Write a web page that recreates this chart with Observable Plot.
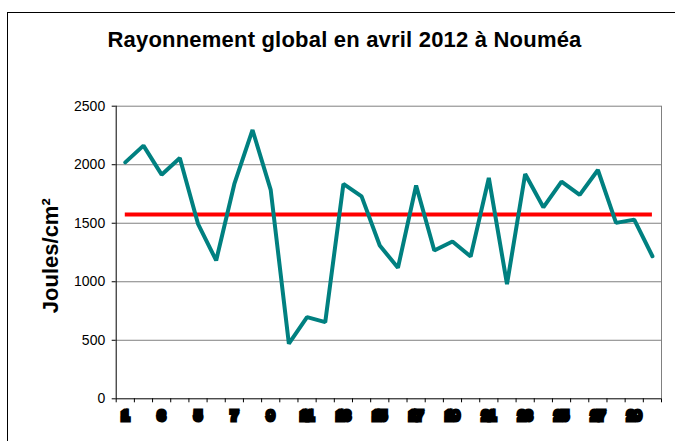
<!DOCTYPE html>
<html>
<head>
<meta charset="utf-8">
<script src="https://cdn.jsdelivr.net/npm/d3@7"></script>
<script src="https://cdn.jsdelivr.net/npm/@observablehq/plot@0.6"></script>
<style>
  html, body { margin: 0; padding: 0; background: #fff; }
  #chart { width: 675px; height: 441px; overflow: hidden; }
</style>
</head>
<body>
<div id="chart"></div>
<script>
const titre = "Rayonnement global en avril 2012 à Nouméa";
const yLabel = "Joules/cm²";
const days = [1,2,3,4,5,6,7,8,9,10,11,12,13,14,15,16,17,18,19,20,21,22,23,24,25,26,27,28,29,30];
const rayonnement = [2020,2163,1915,2058,1495,1182,1836,2297,1785,471,698,655,1836,1730,1310,1119,1822,1267,1344,1216,1887,980,1921,1636,1856,1742,1955,1503,1531,1218];
const moyenne = 1575;
const yTicks = [0,500,1000,1500,2000,2500];
const xLabels = [1,3,5,7,9,11,13,15,17,19,21,23,25,27,29];

const data = days.map((d, i) => ({day: d, value: rayonnement[i]}));
const boundaries = days.map(d => d - 0.5).concat([days[days.length - 1] + 0.5]);
const font = "'Liberation Sans', Arial, sans-serif";

const plot = Plot.plot({
  width: 675,
  height: 441,
  marginLeft: 115.7,
  marginRight: 14,
  marginTop: 105.7,
  marginBottom: 42.7,
  style: {fontFamily: font, fontSize: "14px", background: "transparent", color: "#000"},
  x: {type: "linear", domain: [0.5, 30.5]},
  y: {domain: [0, 2500]},
  marks: [
    Plot.ruleY(yTicks.filter(v => v > 0), {stroke: "#808080", strokeWidth: 1}),
    Plot.ruleX([30.5], {y1: 0, y2: 2500, stroke: "#808080", strokeWidth: 1}),
    Plot.ruleY([0], {stroke: "#000"}),
    Plot.ruleX([0.5], {y1: 0, y2: 2500, stroke: "#000"}),
    Plot.axisY({ticks: yTicks, tickSize: 4, tickPadding: 7, fontSize: 14, label: null,
      tickFormat: d => String(d), stroke: "#000", fill: "#000"}),
    Plot.axisX({ticks: boundaries, tickSize: 4, tickFormat: () => "", label: null, stroke: "#000"}),
    Plot.text(xLabels, {x: d => d, y: 0, text: d => String(d), dy: 13, lineAnchor: "top",
      fontSize: 12, fontWeight: "bold", fill: "#000", stroke: "#000", strokeWidth: 5, strokeLinejoin: "miter"}),
    Plot.ruleY([moyenne], {x1: days[0], x2: days[days.length - 1], stroke: "#ff0000", strokeWidth: 4}),
    Plot.lineY(data, {x: "day", y: "value", stroke: "#008080", strokeWidth: 4, strokeLinejoin: "miter"})
  ]
});

const svg = d3.select(plot);
svg.insert("rect", ":first-child")
  .attr("x", 7.5).attr("y", 12.5).attr("width", 700).attr("height", 500)
  .attr("fill", "none").attr("stroke", "#000").attr("stroke-width", 1);
svg.append("text")
  .attr("x", 344.5).attr("y", 46.7)
  .attr("text-anchor", "middle")
  .style("font-family", font).style("font-size", "22px").style("font-weight", "bold")
  .style("letter-spacing", "0.2px")
  .attr("fill", "#000")
  .text(titre);
svg.append("text")
  .attr("transform", "translate(58,255.7) rotate(-90)")
  .attr("text-anchor", "middle")
  .style("font-family", font).style("font-size", "22px").style("font-weight", "bold")
  .attr("fill", "#000")
  .text(yLabel);

document.getElementById("chart").appendChild(plot);
</script>
</body>
</html>
